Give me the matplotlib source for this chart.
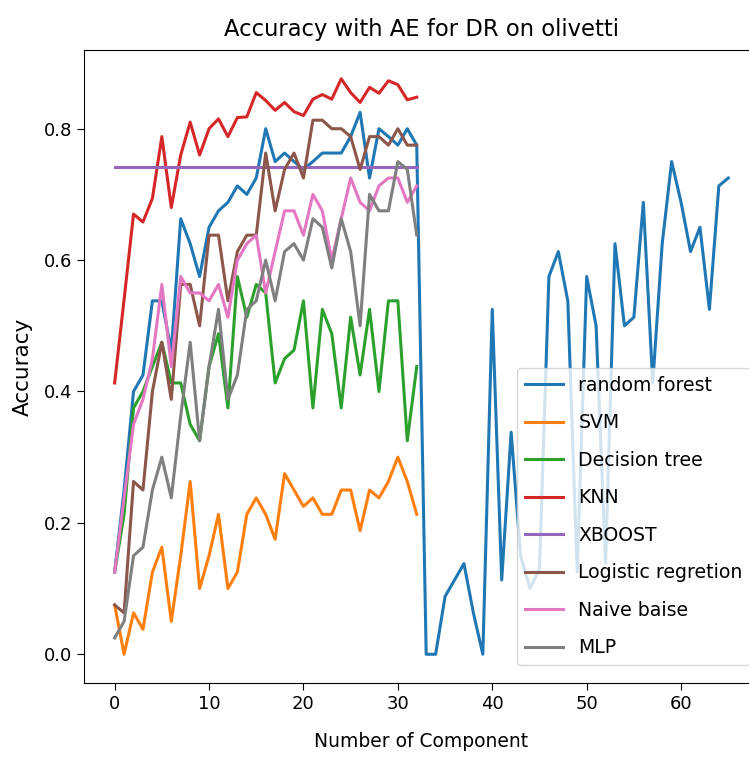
import matplotlib
matplotlib.use("Agg")
import matplotlib.pyplot as plt
import numpy as np

# accuracy per number of components
random_forest = [0.125, 0.25, 0.40, 0.425, 0.538, 0.538, 0.462, 0.663, 0.625, 0.575,
                 0.65, 0.675, 0.688, 0.713, 0.70, 0.725, 0.80, 0.75, 0.763, 0.75,
                 0.738, 0.75, 0.763, 0.763, 0.763, 0.788, 0.825, 0.725, 0.80, 0.788,
                 0.775, 0.80, 0.775, 0.0, 0.0, 0.088, 0.113, 0.138, 0.063, 0.0,
                 0.525, 0.113, 0.338, 0.15, 0.1, 0.13, 0.575, 0.613, 0.538, 0.125,
                 0.575, 0.5, 0.138, 0.625, 0.5, 0.513, 0.688, 0.413, 0.625, 0.75,
                 0.688, 0.613, 0.65, 0.525, 0.713, 0.725]
svm = [0.075, 0.0, 0.063, 0.038, 0.125, 0.163, 0.05, 0.15, 0.263, 0.1,
       0.15, 0.213, 0.1, 0.125, 0.213, 0.238, 0.213, 0.175, 0.275, 0.25,
       0.225, 0.238, 0.213, 0.213, 0.25, 0.25, 0.188, 0.25, 0.238, 0.263,
       0.30, 0.263, 0.213]
decision_tree = [0.125, 0.213, 0.375, 0.40, 0.438, 0.475, 0.413, 0.413, 0.35, 0.325,
                 0.438, 0.488, 0.375, 0.575, 0.513, 0.563, 0.55, 0.413, 0.45, 0.463,
                 0.538, 0.375, 0.525, 0.488, 0.375, 0.513, 0.425, 0.525, 0.40, 0.538,
                 0.538, 0.325, 0.438]
knn = [0.413, 0.54, 0.67, 0.658, 0.694, 0.788, 0.68, 0.76, 0.81, 0.76,
       0.80, 0.815, 0.788, 0.817, 0.818, 0.855, 0.843, 0.828, 0.84, 0.826,
       0.82, 0.845, 0.852, 0.845, 0.876, 0.855, 0.84, 0.863, 0.854, 0.873,
       0.867, 0.844, 0.848]
xboost = [0.742] * 33
logistic = [0.075, 0.063, 0.263, 0.25, 0.40, 0.475, 0.388, 0.563, 0.563, 0.50,
            0.638, 0.638, 0.538, 0.613, 0.638, 0.638, 0.763, 0.675, 0.738, 0.763,
            0.725, 0.813, 0.813, 0.80, 0.80, 0.788, 0.738, 0.788, 0.788, 0.775,
            0.80, 0.775, 0.775]
naive_bayes = [0.125, 0.238, 0.35, 0.388, 0.45, 0.563, 0.438, 0.575, 0.55, 0.55,
               0.538, 0.563, 0.513, 0.60, 0.625, 0.638, 0.55, 0.613, 0.675, 0.675,
               0.638, 0.70, 0.675, 0.60, 0.663, 0.725, 0.688, 0.675, 0.713, 0.725,
               0.725, 0.688, 0.713]
mlp = [0.025, 0.05, 0.15, 0.163, 0.25, 0.30, 0.238, 0.363, 0.475, 0.325,
       0.438, 0.525, 0.388, 0.425, 0.525, 0.538, 0.60, 0.538, 0.613, 0.625,
       0.60, 0.663, 0.65, 0.588, 0.663, 0.613, 0.50, 0.70, 0.675, 0.675,
       0.75, 0.738, 0.638]

series = [
    ("random forest", random_forest),
    ("SVM", svm),
    ("Decision tree", decision_tree),
    ("KNN", knn),
    ("XBOOST", xboost),
    ("Logistic regretion", logistic),
    ("Naive baise", naive_bayes),
    ("MLP", mlp),
]

fig = plt.figure(figsize=(7.49, 7.58), dpi=100)
# the axes runs past the right edge of the picture, as in the original crop
ax = fig.add_axes([0.1121, 0.0989, 0.9012, 0.8351])

for name, vals in series:
    ax.plot(np.arange(len(vals)), vals, label=name, linewidth=2.2)

ax.set_title("Accuracy with AE for DR on olivetti", fontsize=16.3, pad=10)
ax.set_xlabel("Number of Component", fontsize=13.5, labelpad=14)
ax.set_ylabel("Accuracy", fontsize=15.5, labelpad=8)
ax.tick_params(labelsize=13, length=5)
ax.legend(loc="lower left", bbox_to_anchor=(517 / 749, 93 / 758),
          bbox_transform=fig.transFigure, borderaxespad=0,
          fontsize=13.6, handlelength=2.05, labelspacing=0.98)

fig.savefig("out.png", dpi=100)
